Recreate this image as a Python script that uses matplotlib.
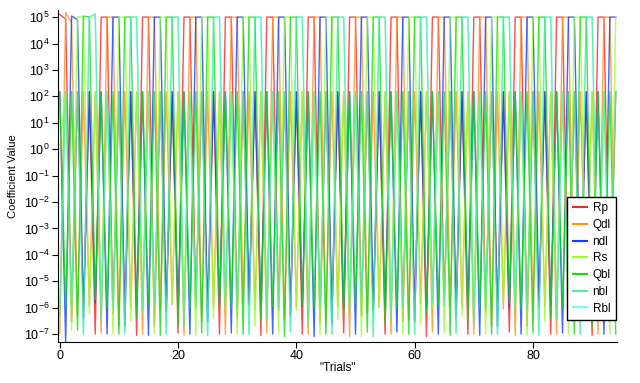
import matplotlib
matplotlib.use("Agg")
import matplotlib.pyplot as plt
from matplotlib.ticker import FixedLocator, LogFormatterMathtext, NullLocator

plt.rcParams['font.family'] = ['Liberation Sans', 'DejaVu Sans']
plt.rcParams['mathtext.fontset'] = 'custom'
plt.rcParams['mathtext.rm'] = 'Liberation Sans'
plt.rcParams['mathtext.it'] = 'Liberation Sans'

# coefficient values per trial (trials 0..94)
rp = [1.25e5, 8.5e4, 3e-7, 150, 1.1e-6, 150, 1e-7,
      1e5, 1e5, 6e-7, 150, 1.2e-6, 150, 9e-8,
      1e5, 1e5, 2e-7, 150, 9e-7, 150, 1.1e-7,
      1e5, 1e5, 1.5e-6, 150, 1e-6, 150, 1e-7,
      1e5, 1e5, 4e-7, 150, 1.3e-6, 150, 9e-8,
      1e5, 1e5, 8e-7, 150, 1e-6, 150, 1e-7,
      1e5, 1e5, 2.5e-7, 150, 1.1e-6, 150, 1.1e-7,
      1e5, 1e5, 5e-7, 150, 9e-7, 150, 1e-7,
      1e5, 1e5, 3e-7, 150, 1.2e-6, 150, 8e-8,
      1e5, 1e5, 1.8e-6, 150, 1e-6, 150, 1e-7,
      1e5, 1e5, 7e-7, 150, 1.4e-6, 150, 1.2e-7,
      1e5, 1e5, 2e-7, 150, 1e-6, 150, 1e-7,
      1e5, 1e5, 4.5e-7, 150, 1.1e-6, 150, 9e-8,
      1e5, 1e5, 3e-7, 150]
qdl = [1e-7, 1.5e5, 6e4, 5e-7, 150, 1.2e-6, 150,
       1.1e-7, 1e5, 1e5, 2e-7, 150, 1e-6, 150,
       1e-7, 1e5, 1e5, 9e-7, 150, 1.3e-6, 150,
       9e-8, 1e5, 1e5, 3e-7, 150, 1e-6, 150,
       1e-7, 1e5, 1e5, 1.6e-6, 150, 9e-7, 150,
       1.1e-7, 1e5, 1e5, 4e-7, 150, 1.1e-6, 150,
       1e-7, 1e5, 1e5, 2.5e-7, 150, 1.2e-6, 150,
       8e-8, 1e5, 1e5, 6e-7, 150, 1e-6, 150,
       1e-7, 1e5, 1e5, 3.5e-7, 150, 1.4e-6, 150,
       1.2e-7, 1e5, 1e5, 1.2e-6, 150, 1e-6, 150,
       1e-7, 1e5, 1e5, 2e-7, 150, 9e-7, 150,
       9e-8, 1e5, 1e5, 7e-7, 150, 1.1e-6, 150,
       1e-7, 1e5, 1e5, 3e-7, 150, 1.2e-6, 150,
       1e-7, 1e5, 1e5, 5e-7]
ndl = [150, 5e-8, 1.1e5, 8e4, 4e-7, 150, 1.5e-6,
       150, 1e-7, 1e5, 1e5, 2e-7, 150, 1.1e-6,
       150, 9e-8, 1e5, 1e5, 7e-7, 150, 1e-6,
       150, 1e-7, 1e5, 1e5, 3e-7, 150, 1.3e-6,
       150, 1.1e-7, 1e5, 1e5, 1.4e-6, 150, 1e-6,
       150, 1e-7, 1e5, 1e5, 5e-7, 150, 1.2e-6,
       150, 8e-8, 1e5, 1e5, 2.5e-7, 150, 9e-7,
       150, 1e-7, 1e5, 1e5, 8e-7, 150, 1.1e-6,
       150, 1.2e-7, 1e5, 1e5, 3e-7, 150, 1e-6,
       150, 1e-7, 1e5, 1e5, 4.5e-7, 150, 1.4e-6,
       150, 9e-8, 1e5, 1e5, 2e-7, 150, 1e-6,
       150, 1e-7, 1e5, 1e5, 1.7e-6, 150, 1.2e-6,
       150, 1.1e-7, 1e5, 1e5, 6e-7, 150, 1e-6,
       150, 1e-7, 1e5, 1e5]
rs = [1.0, 150, 1.4e-7, 1.05e5, 1e5, 6e-7, 150,
      1e-6, 150, 1e-7, 1e5, 1e5, 3e-7, 150,
      1.2e-6, 150, 1.1e-7, 1e5, 1e5, 1.5e-6, 150,
      1e-6, 150, 9e-8, 1e5, 1e5, 4e-7, 150,
      9e-7, 150, 1e-7, 1e5, 1e5, 2e-7, 150,
      1.1e-6, 150, 1.2e-7, 1e5, 1e5, 8e-7, 150,
      1.3e-6, 150, 1e-7, 1e5, 1e5, 3.5e-7, 150,
      1e-6, 150, 8e-8, 1e5, 1e5, 1.1e-6, 150,
      1.2e-6, 150, 1e-7, 1e5, 1e5, 2.5e-7, 150,
      1e-6, 150, 1.1e-7, 1e5, 1e5, 5e-7, 150,
      9e-7, 150, 1e-7, 1e5, 1e5, 1.8e-6, 150,
      1.1e-6, 150, 9e-8, 1e5, 1e5, 3e-7, 150,
      1.4e-6, 150, 1e-7, 1e5, 1e5, 7e-7, 150,
      1e-6, 150, 1e-7, 1e5]
qbl = [150, 1.3e-6, 150, 1.4e-7, 1.1e5, 1e5, 2e-6,
       150, 1e-6, 150, 1e-7, 1e5, 1e5, 4e-7,
       150, 1.2e-6, 150, 9e-8, 1e5, 1e5, 2e-7,
       150, 1e-6, 150, 1.1e-7, 1e5, 1e5, 9e-7,
       150, 9e-7, 150, 1e-7, 1e5, 1e5, 3e-7,
       150, 1.1e-6, 150, 8e-8, 1e5, 1e5, 1.3e-6,
       150, 1e-6, 150, 1e-7, 1e5, 1e5, 5e-7,
       150, 1.4e-6, 150, 1.2e-7, 1e5, 1e5, 2.5e-7,
       150, 1e-6, 150, 1e-7, 1e5, 1e5, 6e-7,
       150, 1.2e-6, 150, 9e-8, 1e5, 1e5, 3e-7,
       150, 1e-6, 150, 1e-7, 1e5, 1e5, 1.5e-6,
       150, 9e-7, 150, 1.1e-7, 1e5, 1e5, 4e-7,
       150, 1.1e-6, 150, 1e-7, 1e5, 1e5, 2e-7,
       150, 1e-6, 150, 1e-7]
nbl = [5e-7, 150, 1.2e-6, 150, 1e-7, 1e5, 1.3e5,
       3e-7, 150, 1e-6, 150, 1.1e-7, 1e5, 1e5,
       8e-7, 150, 1.3e-6, 150, 1e-7, 1e5, 1e5,
       2e-7, 150, 1e-6, 150, 9e-8, 1e5, 1e5,
       1.2e-6, 150, 9e-7, 150, 1e-7, 1e5, 1e5,
       4e-7, 150, 1.1e-6, 150, 1.2e-7, 1e5, 1e5,
       2.5e-7, 150, 1e-6, 150, 1e-7, 1e5, 1e5,
       6e-7, 150, 1.4e-6, 150, 8e-8, 1e5, 1e5,
       3e-7, 150, 1e-6, 150, 1e-7, 1e5, 1e5,
       1.6e-6, 150, 1.2e-6, 150, 1.1e-7, 1e5, 1e5,
       2e-7, 150, 1e-6, 150, 1e-7, 1e5, 1e5,
       7e-7, 150, 9e-7, 150, 9e-8, 1e5, 1e5,
       3.5e-7, 150, 1.1e-6, 150, 1e-7, 1e5, 1e5,
       4e-7, 150, 1e-6, 150]
rbl = list(nbl)  # sits underneath nbl in the original

names = ['Rp', 'Qdl', 'ndl', 'Rs', 'Qbl', 'nbl', 'Rbl']
series = [rp, qdl, ndl, rs, qbl, nbl, rbl]
colors = ['#ff2020', '#ff9020', '#1040ff', '#99ff33', '#10dd10', '#50f0a0', '#70ffff']
decades = [1e-7, 1e-6, 1e-5, 1e-4, 1e-3, 1e-2, 1e-1, 1e0, 1e1, 1e2, 1e3, 1e4, 1e5]
trials = list(range(len(rp)))

fig, ax = plt.subplots(figsize=(6.4, 3.83), dpi=100)
fig.subplots_adjust(left=0.0906, right=0.964, bottom=0.107, top=0.974)

for k, (name, vals, col) in enumerate(zip(names, series, colors)):
    z = 1 if name == 'Rbl' else 2 + k
    ax.plot(trials, vals, color=col, lw=1.0, alpha=0.8, label=name, zorder=z)

ax.set_yscale('log')
ax.set_ylim(10 ** -7.3, 10 ** 5.27)
ax.set_xlim(-0.3, 94.2)
ax.yaxis.set_major_locator(FixedLocator(decades))
ax.yaxis.set_major_formatter(LogFormatterMathtext())
ax.yaxis.set_minor_locator(NullLocator())
ax.set_xticks([0, 20, 40, 60, 80])

for s in ['top', 'right']:
    ax.spines[s].set_visible(False)
ax.tick_params(axis='both', direction='out', length=4, width=0.8, labelsize=9, pad=2)

ax.set_ylabel('Coefficient Value', fontsize=8)
ax.set_xlabel('"Trials"', fontsize=8.5, labelpad=0)

leg = ax.legend(loc='upper left', bbox_to_anchor=(0.911, 0.437), fontsize=8.5,
                frameon=True, fancybox=False, framealpha=1, edgecolor='black',
                handlelength=1.2, handletextpad=0.5, borderpad=0.45,
                labelspacing=0.4, borderaxespad=0)
leg.get_frame().set_linewidth(1.0)
for ln in leg.get_lines():
    ln.set_linewidth(1.5)
    ln.set_alpha(1)
leg.set_zorder(20)

fig.savefig('out.png', dpi=100)
